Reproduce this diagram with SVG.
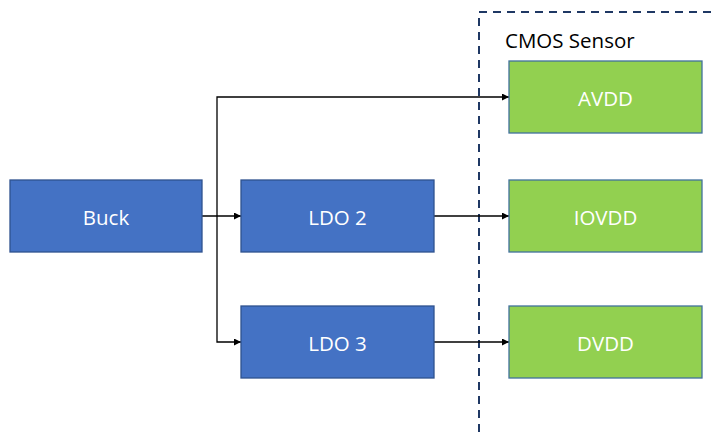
<svg xmlns="http://www.w3.org/2000/svg" width="717" height="436" viewBox="0 0 717 436">
<defs>
<style>
.blue{fill:#4472c4;stroke:#2f528f;stroke-width:1.3}
.green{fill:#92d050;stroke:#41719c;stroke-width:1.3}
.lbl{font-family:"Open Sans","Noto Sans",sans-serif;font-size:20.5px;fill:#ffffff;text-anchor:middle;dominant-baseline:central}
.wire{fill:none;stroke:#000;stroke-width:1.3}
</style>
<marker id="ah" viewBox="0 0 10 10" refX="10" refY="5" markerWidth="7" markerHeight="7" markerUnits="userSpaceOnUse" orient="auto"><path d="M0,0 L10,5 L0,10 z" fill="#000"/></marker>
</defs>
<rect width="717" height="436" fill="#fff"/>
<g id="sensor">
<rect x="479" y="12" width="260" height="440" fill="none" stroke="#1f3864" stroke-width="2" stroke-dasharray="8,6"/>
<text x="505" y="39.5" font-family="'Open Sans','Noto Sans',sans-serif" font-size="20.5" fill="#000" dominant-baseline="central">CMOS Sensor</text>
</g>
<g id="connectors">
<path class="wire" d="M202,216 H241" marker-end="url(#ah)"/>
<path class="wire" d="M217,216 V97 H509" marker-end="url(#ah)"/>
<path class="wire" d="M217,216 V342 H241" marker-end="url(#ah)"/>
<path class="wire" d="M434,216 H509" marker-end="url(#ah)"/>
<path class="wire" d="M434,342 H509" marker-end="url(#ah)"/>
</g>
<g id="buck"><rect class="blue" x="10" y="180" width="192" height="72"/><text class="lbl" x="106" y="216.5">Buck</text></g>
<g id="ldo2"><rect class="blue" x="241" y="180" width="193" height="72"/><text class="lbl" x="337.5" y="216.5">LDO 2</text></g>
<g id="ldo3"><rect class="blue" x="241" y="306" width="193" height="72"/><text class="lbl" x="337.5" y="342.5">LDO 3</text></g>
<g id="avdd"><rect class="green" x="509" y="61" width="193" height="72"/><text class="lbl" x="605.5" y="97.5">AVDD</text></g>
<g id="iovdd"><rect class="green" x="509" y="180" width="193" height="72"/><text class="lbl" x="605.5" y="216.5">IOVDD</text></g>
<g id="dvdd"><rect class="green" x="509" y="306" width="193" height="72"/><text class="lbl" x="605.5" y="342.5">DVDD</text></g>
</svg>
